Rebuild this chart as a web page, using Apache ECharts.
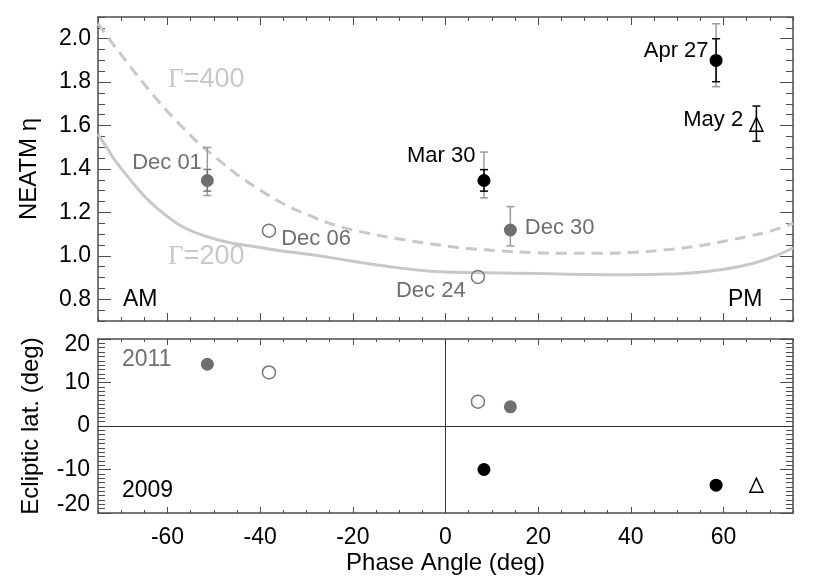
<!DOCTYPE html>
<html>
<head>
<meta charset="utf-8">
<script src="https://cdn.jsdelivr.net/npm/echarts@6/dist/echarts.min.js"></script>
<style>
  html, body { margin: 0; padding: 0; background: #fff; }
  #chart { width: 817px; height: 584px; }
</style>
</head>
<body>
<div id="chart"></div>
<script>
// observations
const dates = ['Dec 01', 'Dec 06', 'Dec 24', 'Dec 30', 'Mar 30', 'Apr 27', 'May 2'];
const obsYear = [2011, 2011, 2011, 2011, 2009, 2009, 2009];
const markerKind = ['filled', 'open', 'open', 'filled', 'filled', 'filled', 'triangle'];
const phaseAngle = [-51.4, -38.1, 7.0, 14.0, 8.3, 58.4, 67.1];
const neatmEta = [1.347, 1.116, 0.903, 1.119, 1.347, 1.90, 1.606];
const eclipticLat = [14.2, 12.3, 5.6, 4.4, -10.0, -13.6, -13.6];

// error bars (outer = grey, inner = darker)
const etaOuterLow = [1.278, null, null, 1.046, 1.267, 1.779, null];
const etaOuterHigh = [1.499, null, null, 1.227, 1.478, 2.069, null];
const etaInnerLow = [1.298, null, null, null, 1.298, 1.802, 1.528];
const etaInnerHigh = [1.398, null, null, null, 1.397, 2.000, 1.690];

// thermal inertia model curves
const gamma400Phase = [-75, -72.3, -70, -68, -65, -62, -59, -56.5, -53.5, -49.3, -45, -40, -35, -29, -23.4, -17.6, -12, -6, 0, 5, 12, 19, 26, 33, 40, 47, 55, 62, 66, 70, 75];
const gamma400Eta = [2.07, 1.99, 1.927, 1.871, 1.79, 1.713, 1.642, 1.587, 1.523, 1.448, 1.375, 1.303, 1.24, 1.183, 1.139, 1.108, 1.085, 1.064, 1.046, 1.034, 1.023, 1.015, 1.012, 1.012, 1.016, 1.027, 1.047, 1.075, 1.093, 1.113, 1.15];
const gamma200Phase = [-75, -73, -71, -68, -65, -62, -59, -56, -52, -47, -42, -36, -28, -20, -12, -5, 0, 5, 12, 20, 30, 40, 48, 55, 62, 69, 75];
const gamma200Eta = [1.56, 1.495, 1.43, 1.35, 1.275, 1.215, 1.165, 1.126, 1.092, 1.063, 1.045, 1.025, 1.003, 0.975, 0.95, 0.933, 0.926, 0.923, 0.921, 0.919, 0.914, 0.913, 0.916, 0.925, 0.945, 0.982, 1.036];

// ticks
const phaseTicks = [-60, -40, -20, 0, 20, 40, 60];
const etaTicks = [0.8, 1.0, 1.2, 1.4, 1.6, 1.8, 2.0];
const latTicks = [-20, -10, 0, 10, 20];

const FONT = "'Liberation Sans', Helvetica, Arial, sans-serif";
const FRAME = '#4d4d4d';
const GREY = '#6f6f6f';

// where each date label sits relative to its point
const labelPlace = {
  'Dec 01': ['left', [6, -18]],
  'Dec 06': ['right', [0, 8]],
  'Dec 24': ['left', [0, 14]],
  'Dec 30': ['right', [3, -2]],
  'Mar 30': ['left', [3, -25]],
  'Apr 27': ['left', [4, -9]],
  'May 2': ['left', [-1, -4]]
};

function axisPair(dim, grid, position, o) {
  const major = {
    type: 'value', gridIndex: grid, position: position, min: o.min, max: o.max,
    axisLine: { show: true, onZero: false, lineStyle: { color: FRAME, width: 1.5 } },
    axisTick: { show: true, inside: true, length: o.majorLen, customValues: o.ticks, lineStyle: { color: FRAME, width: 1 } },
    axisLabel: o.labels ? {
      show: true, customValues: o.labelValues || o.ticks, margin: o.margin,
      color: '#000', fontFamily: FONT, fontSize: 23, formatter: o.fmt
    } : { show: false },
    splitLine: { show: false }
  };
  if (o.name) {
    major.name = o.name;
    major.nameLocation = 'middle';
    major.nameGap = o.nameGap;
    major.nameTextStyle = { color: '#000', fontFamily: FONT, fontSize: 24 };
  }
  const minor = {
    type: 'value', gridIndex: grid, position: position, min: o.min, max: o.max, interval: o.step,
    axisLine: { show: false, onZero: false },
    axisTick: { show: true, inside: true, length: o.minorLen, lineStyle: { color: FRAME, width: 1 } },
    axisLabel: { show: false },
    splitLine: { show: false }
  };
  return [major, minor];
}

const xAxes = [].concat(
  axisPair('x', 0, 'bottom', { min: -75, max: 75, ticks: phaseTicks, step: 5, majorLen: 8, minorLen: 4 }),
  axisPair('x', 0, 'top', { min: -75, max: 75, ticks: phaseTicks, step: 5, majorLen: 8, minorLen: 4 }),
  axisPair('x', 1, 'bottom', { min: -75, max: 75, ticks: phaseTicks, step: 5, majorLen: 6, minorLen: 3,
    labels: true, margin: 13, fmt: v => String(v), name: 'Phase Angle (deg)', nameGap: 38 }),
  axisPair('x', 1, 'top', { min: -75, max: 75, ticks: phaseTicks, step: 5, majorLen: 6, minorLen: 3 })
);

const yAxes = [].concat(
  axisPair('y', 0, 'left', { min: 0.7, max: 2.1, ticks: etaTicks, step: 0.05, majorLen: 13, minorLen: 7,
    labels: true, margin: 7, fmt: v => v.toFixed(1), name: 'NEATM η', nameGap: 57 }),
  axisPair('y', 0, 'right', { min: 0.7, max: 2.1, ticks: etaTicks, step: 0.05, majorLen: 13, minorLen: 7 }),
  axisPair('y', 1, 'left', { min: -20, max: 20, ticks: latTicks, labelValues: [-10, 0, 10], step: 1, majorLen: 13, minorLen: 7,
    labels: true, margin: 8, fmt: v => String(v), name: 'Ecliptic lat. (deg)', nameGap: 55 }),
  axisPair('y', 1, 'right', { min: -20, max: 20, ticks: latTicks, step: 1, majorLen: 13, minorLen: 7 })
);
// edge labels of the latitude axis are nudged inside the frame
[[20, 'top', 12], [-20, 'bottom', 16]].forEach(function (e) {
  yAxes.push({
    type: 'value', gridIndex: 1, position: 'left', min: -20, max: 20,
    axisLine: { show: false, onZero: false }, axisTick: { show: false }, splitLine: { show: false },
    axisLabel: { show: true, customValues: [e[0]], margin: 8, verticalAlign: e[1], lineHeight: e[2],
      color: '#000', fontFamily: FONT, fontSize: 23 }
  });
});

// top panel uses xAxis 0 / yAxis 0, bottom panel xAxis 4 / yAxis 4
function markerStyle(i) {
  const c = obsYear[i] === 2011 ? GREY : '#000';
  if (markerKind[i] === 'filled') return { symbol: 'circle', symbolSize: 13, itemStyle: { color: c, opacity: 1 } };
  if (markerKind[i] === 'open') return { symbol: 'circle', symbolSize: 13, itemStyle: { color: 'rgba(255,255,255,0)', borderColor: '#777', borderWidth: 1.5, opacity: 1 } };
  return { symbol: 'triangle', symbolSize: [13, 14], itemStyle: { color: 'rgba(255,255,255,0)', borderColor: '#000', borderWidth: 1.5, opacity: 1 } };
}

function pointData(yArr, withLabels) {
  return dates.map(function (d, i) {
    const s = markerStyle(i);
    const item = { name: d, value: [phaseAngle[i], yArr[i]], symbol: s.symbol, symbolSize: s.symbolSize, itemStyle: s.itemStyle };
    if (withLabels) {
      item.label = {
        show: true, position: labelPlace[d][0], offset: labelPlace[d][1], formatter: d,
        color: obsYear[i] === 2011 ? GREY : '#000', fontFamily: FONT, fontSize: 22
      };
    }
    return item;
  });
}

function errorBars(lowArr, highArr, colorFor) {
  const data = [];
  dates.forEach(function (d, i) {
    if (lowArr[i] != null) data.push([phaseAngle[i], lowArr[i], highArr[i], i]);
  });
  return {
    type: 'custom', xAxisIndex: 0, yAxisIndex: 0, z: 3, silent: true,
    encode: { x: 0, y: [1, 2] }, data: data,
    renderItem: function (params, api) {
      const x = api.value(0);
      const lo = api.coord([x, api.value(1)]);
      const hi = api.coord([x, api.value(2)]);
      const st = { stroke: colorFor(api.value(3)), lineWidth: 1.5 };
      const w = 4;
      return {
        type: 'group', children: [
          { type: 'line', shape: { x1: lo[0], y1: lo[1], x2: hi[0], y2: hi[1] }, style: st },
          { type: 'line', shape: { x1: lo[0] - w, y1: lo[1], x2: lo[0] + w, y2: lo[1] }, style: st },
          { type: 'line', shape: { x1: hi[0] - w, y1: hi[1], x2: hi[0] + w, y2: hi[1] }, style: st }
        ]
      };
    }
  };
}

function zip(a, b) { return a.map((v, i) => [v, b[i]]); }

const chart = echarts.init(document.getElementById('chart'), null, { renderer: 'canvas' });
chart.setOption({
  animation: false,
  backgroundColor: '#fff',
  grid: [
    { left: 98, top: 17, width: 695, height: 304 },
    { left: 98, top: 339, width: 695, height: 174 }
  ],
  xAxis: xAxes,
  yAxis: yAxes,
  graphic: [
    { type: 'text', left: 168, top: 66, z: 1, style: { text: '{g|Γ}=400', fill: '#c8c8c8', font: '27px ' + FONT, rich: { g: { fontFamily: "'Liberation Serif', 'DejaVu Serif', serif", fontSize: 27 } } } },
    { type: 'text', left: 168, top: 243, z: 1, style: { text: '{g|Γ}=200', fill: '#c8c8c8', font: '27px ' + FONT, rich: { g: { fontFamily: "'Liberation Serif', 'DejaVu Serif', serif", fontSize: 27 } } } },
    { type: 'text', left: 123, top: 288, style: { text: 'AM', fill: '#000', font: '23px ' + FONT } },
    { type: 'text', left: 728, top: 288, style: { text: 'PM', fill: '#000', font: '23px ' + FONT } },
    { type: 'text', left: 122, top: 348, style: { text: '2011', fill: GREY, font: '23px ' + FONT } },
    { type: 'text', left: 122, top: 479, style: { text: '2009', fill: '#000', font: '23px ' + FONT } }
  ],
  series: [
    {
      type: 'line', name: 'Γ=400', xAxisIndex: 0, yAxisIndex: 0, data: zip(gamma400Phase, gamma400Eta),
      showSymbol: false, smooth: 0.5, silent: true, z: 1,
      lineStyle: { color: '#c8c8c8', width: 3, type: [11, 7] }
    },
    {
      type: 'line', name: 'Γ=200', xAxisIndex: 0, yAxisIndex: 0, data: zip(gamma200Phase, gamma200Eta),
      showSymbol: false, smooth: 0.5, silent: true, z: 1,
      lineStyle: { color: '#c8c8c8', width: 3 }
    },
    errorBars(etaOuterLow, etaOuterHigh, function () { return '#9a9a9a'; }),
    errorBars(etaInnerLow, etaInnerHigh, function (i) { return obsYear[i] === 2011 ? '#7a7a7a' : '#000'; }),
    {
      type: 'scatter', xAxisIndex: 0, yAxisIndex: 0, z: 4, data: pointData(neatmEta, true)
    },
    {
      type: 'scatter', xAxisIndex: 4, yAxisIndex: 4, z: 4, data: pointData(eclipticLat, false),
      markLine: {
        silent: true, symbol: 'none', label: { show: false },
        lineStyle: { color: '#333', width: 1, type: 'solid' },
        data: [{ xAxis: 0 }, { yAxis: 0 }]
      }
    }
  ]
});
</script>
</body>
</html>
